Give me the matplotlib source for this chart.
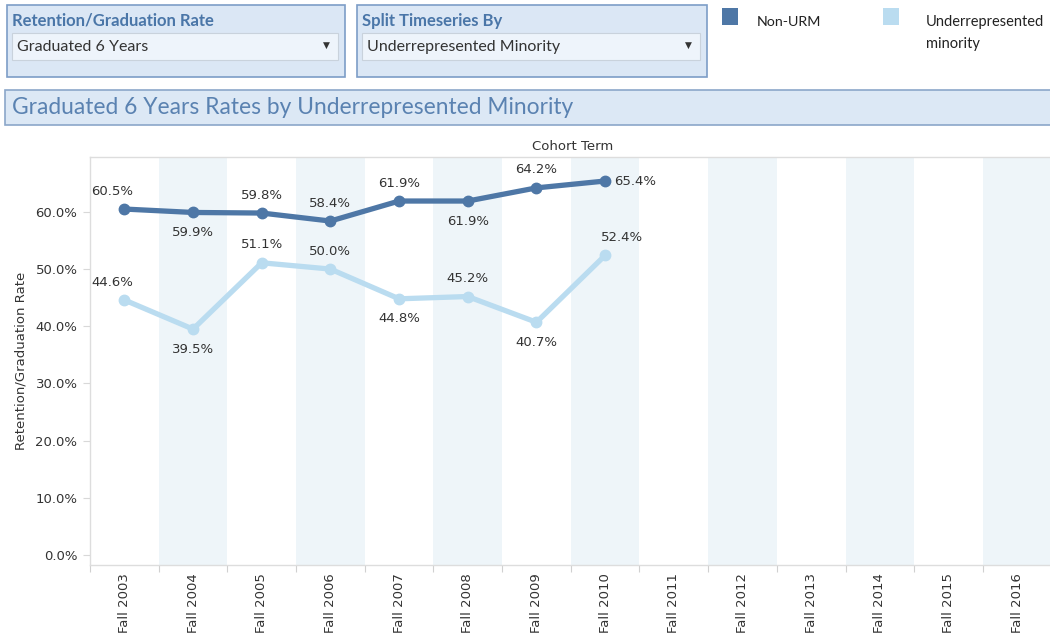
import matplotlib.pyplot as plt
from matplotlib.patches import Rectangle
from matplotlib.ticker import FixedLocator, FuncFormatter

terms = ["Fall 2003", "Fall 2004", "Fall 2005", "Fall 2006", "Fall 2007", "Fall 2008",
         "Fall 2009", "Fall 2010", "Fall 2011", "Fall 2012", "Fall 2013", "Fall 2014",
         "Fall 2015", "Fall 2016"]
non_urm = [60.5, 59.9, 59.8, 58.4, 61.9, 61.9, 64.2, 65.4]
urm = [44.6, 39.5, 51.1, 50.0, 44.8, 45.2, 40.7, 52.4]
yticks = [0, 10, 20, 30, 40, 50, 60]

# label offsets in pixels (dx, dy)
non_urm_off = [(-12, 18), (0, -20), (0, 18), (0, 18), (0, 18), (0, -20), (0, 18), (30, 0)]
urm_off = [(-12, 17), (0, -20), (0, 18), (0, 18), (0, -20), (0, 18), (0, -20), (17, 18)]

DARK = "#4e77a6"
LIGHT = "#badcf0"
BAND = "#eef5f9"
W, H = 1050, 640

fig = plt.figure(figsize=(10.5, 6.4), dpi=100)


def px(x, y, w, h):
    # rectangle from top-left pixel coords to figure fraction
    return (x / W, 1 - (y + h) / H, w / W, h / H)


def box(x, y, w, h, fc, ec, lw=1.0):
    l, b, ww, hh = px(x, y, w, h)
    fig.patches.append(Rectangle((l, b), ww, hh, transform=fig.transFigure,
                                 facecolor=fc, edgecolor=ec, linewidth=lw))


def ftext(x, y, s, **kw):
    fig.text(x / W, 1 - y / H, s, **kw)


# filter boxes
for bx, bw, head, val in [(7, 338, "Retention/Graduation Rate", "Graduated 6 Years"),
                          (357, 350, "Split Timeseries By", "Underrepresented Minority")]:
    box(bx, 5, bw, 72, "#dbe7f5", "#7d9dc7", 1.2)
    box(bx + 5, 33, bw - 12, 27, "#eef4fb", "#c9d2dc", 0.8)
    ftext(bx + 5, 21, head, fontsize=12, fontweight="bold", color="#4a76a8",
          family="Lato", va="center")
    ftext(bx + 10, 47, val, fontsize=11.5, color="#333333", family="Lato", va="center")
    ftext(bx + bw - 19, 45, "\u25bc", fontsize=6.5, color="#333333", va="center", ha="center")

# legend
box(722, 8, 16, 17, DARK, "none")
ftext(757, 22, "Non-URM", fontsize=10.3, color="#222222", family="Lato", va="center")
box(883, 8, 16, 17, LIGHT, "none")
ftext(926, 22, "Underrepresented", fontsize=10.5, color="#222222", family="Lato", va="center")
ftext(926, 44, "minority", fontsize=10.5, color="#222222", family="Lato", va="center")

# title bar
box(5, 90, 1050, 35, "#dce8f5", "#8ba7c9", 1.2)
ftext(12, 108, "Graduated 6 Years Rates by Underrepresented Minority", fontsize=16.4,
      color="#5a82b1", family="Lato", va="center")

# main plot
ax = fig.add_axes(px(90, 157, 965, 408))
n = len(terms)
x = list(range(n))
for i in range(1, n, 2):
    ax.axvspan(i - 0.5, i + 0.5, color=BAND, lw=0, zorder=0)

ax.plot(x[:len(urm)], urm, color=LIGHT, lw=3.8, marker="o", ms=7.5, solid_capstyle="round", zorder=2)
ax.plot(x[:len(non_urm)], non_urm, color=DARK, lw=3.8, marker="o", ms=7.5, solid_capstyle="round", zorder=3)

for vals, offs in [(non_urm, non_urm_off), (urm, urm_off)]:
    for i, (v, (dx, dy)) in enumerate(zip(vals, offs)):
        ax.annotate(f"{v:.1f}%", (i, v), xytext=(dx, dy), textcoords="offset pixels",
                    ha="center", va="center", fontsize=9.5, color="#333333", zorder=4)

ax.set_xlim(-0.5, n - 0.5 + 0.05)
ax.set_ylim(-1.75, 69.6)
ax.set_yticks(yticks)
ax.yaxis.set_major_formatter(FuncFormatter(lambda v, p: f"{v:.1f}%"))
ax.set_xticks(x)
ax.set_xticklabels(terms, rotation=90, fontsize=9.5, color="#333333")
ax.xaxis.set_minor_locator(FixedLocator([i - 0.5 for i in range(n + 1)]))
ax.tick_params(axis="x", which="major", length=0, pad=6)
ax.tick_params(axis="x", which="minor", length=5, color="#d0d0d0", width=0.8)
ax.tick_params(axis="y", length=5, color="#d8d8d8", width=0.8, labelsize=9.5,
               labelcolor="#333333", pad=4)
for s in ["left", "bottom", "top"]:
    ax.spines[s].set_color("#dddddd")
    ax.spines[s].set_linewidth(1.0)
ax.spines["right"].set_visible(False)
ax.set_ylabel("Retention/Graduation Rate", fontsize=9.5, color="#333333", labelpad=6)
ax.set_title("Cohort Term", fontsize=9.5, color="#333333", pad=5)

fig.savefig("out.png", dpi=100, facecolor="white")
